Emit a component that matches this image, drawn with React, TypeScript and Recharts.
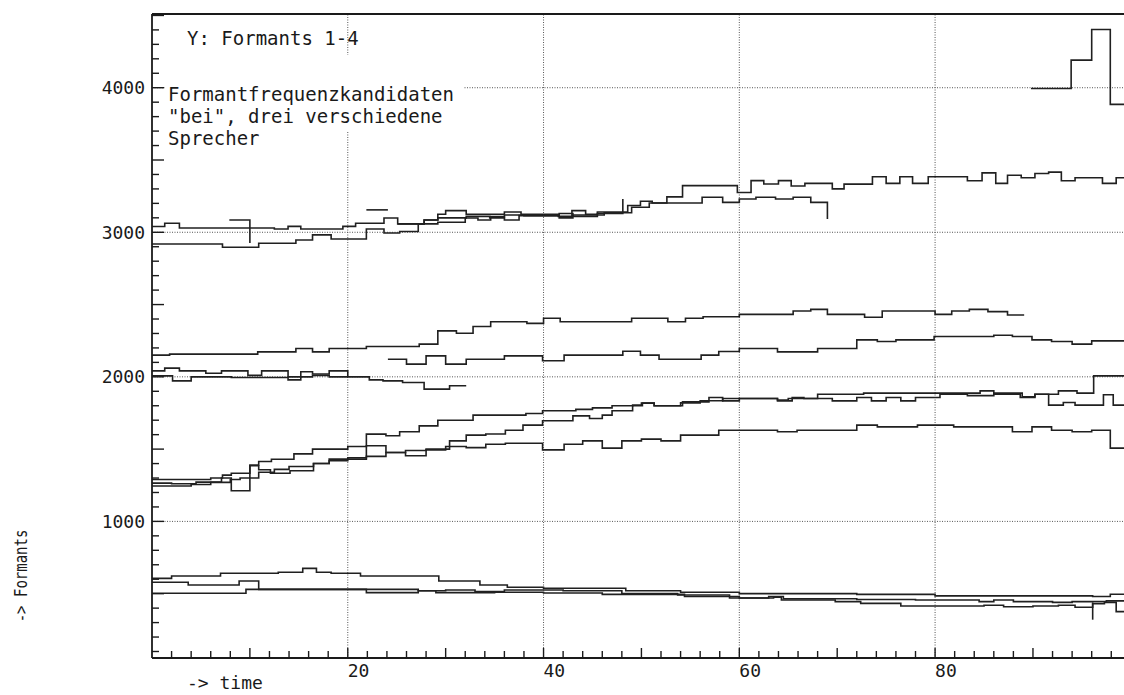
import React from 'react';
import { LineChart, Line, XAxis, YAxis, ReferenceLine } from 'recharts';

type P = [number, number];

// formant 4 (three speakers + fragments)
const f4a: P[] = [[0, 3040], [1.3, 3062], [2.8, 3030], [12.5, 3023], [13.9, 3041], [15.2, 3023], [19.5, 3041], [20.8, 3062], [23.7, 3099], [25.1, 3058], [27.8, 3085], [29.2, 3125], [30, 3150], [32.1, 3125], [36, 3140], [37.7, 3125], [41.5, 3110], [42.9, 3150], [44.3, 3125], [45.5, 3140], [48.6, 3185], [49.9, 3215], [51.1, 3203], [52.6, 3245], [54.2, 3323], [59.8, 3275], [61.2, 3357], [62.5, 3334], [64, 3357], [65.3, 3320], [66.7, 3338], [69.5, 3300], [70.7, 3333], [73.6, 3384], [75, 3338], [76.4, 3384], [77.7, 3338], [79.3, 3384], [83.3, 3356], [84.8, 3411], [86.2, 3338], [87.4, 3395], [88.8, 3377], [90.2, 3407], [91.6, 3416], [92.9, 3356], [94.3, 3377], [97.1, 3338], [98.5, 3377], [99.3, 3377]];
const f4b: P[] = [[0, 2919], [7.2, 2896], [10.9, 2924], [14.7, 2947], [16.4, 2982], [18.3, 2954], [21.9, 3023], [23.7, 2995], [25.3, 3005], [27.2, 3058], [29.2, 3069], [32, 3099], [33.3, 3085], [34.6, 3108], [36, 3085], [37.5, 3115], [41.6, 3100], [43, 3120], [46.2, 3135], [49, 3173], [50.8, 3203], [56.2, 3242], [58.3, 3207], [60, 3230], [61.7, 3242], [63.7, 3230], [65.5, 3242], [67.3, 3207], [69, 3092]];
const f4c: P[] = [[25.1, 3058], [27.8, 3085], [29.2, 3100], [32.1, 3110], [34.5, 3100], [36, 3120], [38, 3115], [41.6, 3130], [43, 3110], [45.5, 3130], [48.1, 3230]];
const f4frag1: P[] = [[7.9, 3085], [10, 2925]];
const f4frag2: P[] = [[21.9, 3155], [24.1, 3155]];
const f4top: P[] = [[89.8, 3995], [93.9, 4191], [96, 4403], [97.9, 3885], [99.3, 3885]];

// formant 3
const f3a: P[] = [[0, 2150], [1.8, 2157], [10.8, 2173], [14.7, 2196], [16.4, 2173], [18.1, 2196], [21.9, 2210], [27.3, 2226], [29.2, 2318], [31.1, 2302], [32.8, 2348], [34.6, 2381], [38.3, 2370], [40, 2405], [41.7, 2381], [49, 2405], [52.7, 2381], [54.5, 2405], [56.3, 2416], [60, 2432], [65.5, 2455], [67.3, 2467], [69, 2432], [72.8, 2412], [74.6, 2455], [80, 2432], [81.7, 2455], [83.5, 2467], [85.4, 2451], [87.4, 2428], [89.1, 2428]];
const f3b: P[] = [[24.1, 2122], [26, 2088], [28, 2145], [30, 2088], [32.1, 2122], [36, 2145], [39.9, 2111], [42.1, 2150], [48.1, 2177], [49.9, 2150], [51.8, 2122], [56.1, 2150], [57.9, 2175], [60, 2196], [63.9, 2173], [68, 2196], [72, 2256], [74.1, 2244], [76, 2256], [79.9, 2279], [86, 2288], [87.9, 2279], [89.9, 2256], [91.9, 2244], [94, 2226], [96, 2249], [99.3, 2249]];
const f3c: P[] = [[0, 2041], [1.3, 2060], [2.8, 2041], [5.5, 2025], [7.1, 2041], [9.8, 2010], [11.2, 2041], [13.9, 2000], [15.2, 2035], [16.4, 2020], [18.1, 2041], [20, 2000], [22.2, 1979], [23.6, 1972], [25.6, 1961], [27.8, 1915], [30.4, 1938], [32.1, 1938]];
const f3d: P[] = [[0, 2007], [2.1, 1972], [4, 2000], [8.1, 1995], [13.9, 1979], [15.2, 2000], [16.4, 2010], [18.1, 2000], [20, 2000]];

// formant 2
const f2a: P[] = [[0, 1290], [3, 1290], [6, 1300], [7.2, 1320], [8.1, 1333], [10, 1390], [10.9, 1414], [12.2, 1430], [14.5, 1467], [16.4, 1500], [20, 1518], [21.9, 1604], [23.9, 1592], [25.3, 1620], [27.3, 1661], [29.2, 1700], [32.8, 1735], [38.2, 1746], [39.9, 1765], [43.3, 1775], [45, 1785], [47, 1800], [49.1, 1805], [50, 1818], [51.3, 1800], [54.2, 1827], [56.9, 1857], [58.3, 1834], [60, 1850], [63.9, 1834], [65.4, 1857], [66.6, 1850], [68, 1880], [72.7, 1887], [84.6, 1903], [86, 1887], [88.9, 1862], [90.2, 1880], [92.6, 1903], [94.5, 1887], [96.2, 2007], [99.3, 2007]];
const f2b: P[] = [[0, 1265], [2, 1260], [4.5, 1272], [7.1, 1300], [8.1, 1212], [10, 1385], [10.9, 1357], [12.1, 1333], [14.1, 1350], [16.5, 1400], [18.1, 1431], [20, 1440], [21.9, 1523], [23.9, 1477], [25.9, 1490], [28, 1500], [30.4, 1557], [32.1, 1597], [34.1, 1605], [36.1, 1631], [37.9, 1666], [39.9, 1696], [43, 1730], [44.7, 1712], [46, 1735], [47, 1765], [49.1, 1800], [50.1, 1818], [51.3, 1800], [54, 1820], [56, 1835], [58.3, 1850], [63.9, 1840], [65, 1850], [69.5, 1834], [72, 1857], [73.5, 1834], [75, 1857], [76.5, 1834], [78, 1857], [80.5, 1880], [83.3, 1870], [86, 1880], [88.7, 1857], [90.2, 1880], [91.6, 1804], [93.1, 1822], [94.3, 1804], [97.2, 1876], [98.2, 1804], [99.3, 1804]];
const f2c: P[] = [[0, 1245], [4, 1255], [6, 1270], [8, 1290], [9, 1300], [10.9, 1340], [12.5, 1360], [14, 1380], [16.5, 1400], [18.1, 1420], [20, 1431], [21.9, 1450], [23.9, 1477], [25.9, 1454], [28, 1495], [30, 1518], [32.1, 1510], [34.1, 1534], [36.1, 1541], [39.9, 1495], [42.1, 1534], [44, 1557], [46, 1507], [48, 1557], [50, 1569], [52, 1557], [54, 1597], [57.9, 1631], [63.9, 1620], [65.9, 1631], [72, 1666], [74.1, 1654], [78.2, 1666], [81.9, 1654], [87.9, 1620], [89.9, 1654], [91.9, 1631], [94, 1620], [96, 1631], [97.9, 1507], [99.3, 1507]];

// formant 1
const f1a: P[] = [[0, 606], [2, 622], [7, 641], [12.9, 648], [15.4, 675], [16.8, 648], [18.3, 641], [21.3, 622], [26.5, 622], [29.3, 588], [33.5, 560], [36.3, 544], [40, 537], [48.4, 520], [54, 510], [60, 500], [72, 495], [80, 485], [96.1, 480], [97.9, 496], [99.3, 496]];
const f1b: P[] = [[0, 579], [3.7, 560], [8.9, 588], [10.9, 530], [21.9, 530], [27.2, 520], [30, 525], [33, 515], [36, 525], [40, 525], [42, 520], [48, 500], [53.7, 491], [59, 470], [63.5, 475], [64.3, 456], [69.8, 445], [72.4, 433], [76.5, 415], [85, 420], [87, 410], [90, 415], [92.6, 420], [94.3, 406], [96.1, 430], [97.3, 440], [98.5, 376], [99.3, 376]];
const f1c: P[] = [[0, 503], [9.6, 530], [21.9, 507], [27.2, 520], [29, 507], [35, 510], [40, 505], [46, 495], [54.4, 480], [60, 470], [63, 480], [64.5, 465], [72, 460], [78, 456], [84.5, 445], [86, 456], [88, 445], [92, 440], [94, 445], [96, 445], [97.5, 450], [99.3, 450]];
const f1spike: P[] = [[96.1, 440], [96.1, 320]];

const SERIES: P[][] = [f4a, f4b, f4c, f4frag1, f4frag2, f4top, f3a, f3b, f3c, f3d, f2a, f2b, f2c, f1a, f1b, f1c, f1spike];

const X_TICKS = [2, 4, 6, 8, 10, 12, 14, 16, 18, 20, 22, 24, 26, 28, 30, 32, 34, 36, 38, 40, 42, 44, 46, 48, 50, 52, 54, 56, 58, 60, 62, 64, 66, 68, 70, 72, 74, 76, 78, 80, 82, 84, 86, 88, 90, 92, 94, 96, 98];
const X_LABELS = [20, 40, 60, 80];
const Y_TICKS = [100, 200, 300, 400, 500, 600, 700, 800, 900, 1000, 1100, 1200, 1300, 1400, 1500, 1600, 1700, 1800, 1900, 2000, 2100, 2200, 2300, 2400, 2500, 2600, 2700, 2800, 2900, 3000, 3100, 3200, 3300, 3400, 3500, 3600, 3700, 3800, 3900, 4000, 4100, 4200, 4300, 4400, 4500];
const Y_LABELS = [1000, 2000, 3000, 4000];

const W = 1124;
const H = 695;
const LEFT = 152;
const BOTTOM = 658;
const FONT = "'DejaVu Sans Mono', monospace";
const INK = '#1a1a1a';

const YTick = (props: any) => {
  const { y, payload } = props;
  const v = payload.value;
  const len = v % 500 === 0 ? 12 : 7;
  return (
    <g>
      <line x1={LEFT} x2={LEFT + len} y1={y} y2={y} stroke={INK} strokeWidth={1.4} />
      {Y_LABELS.includes(v) && (
        <text x={145} y={y + 6.5} textAnchor="end" fontFamily={FONT} fontSize={18} fill={INK}>
          {v}
        </text>
      )}
    </g>
  );
};

const XTick = (props: any) => {
  const { x, payload } = props;
  const v = payload.value;
  const len = v % 10 === 0 ? 10 : 7;
  return (
    <g>
      <line x1={x} x2={x} y1={BOTTOM} y2={BOTTOM - len} stroke={INK} strokeWidth={1.4} />
      {X_LABELS.includes(v) && (
        <text x={x} y={677} textAnchor="start" fontFamily={FONT} fontSize={18} fill={INK}>
          {v}
        </text>
      )}
    </g>
  );
};

const Txt = ({ x, y, children, size = 19 }: any) => (
  <text x={x} y={y} fontFamily={FONT} fontSize={size} fill={INK}>
    {children}
  </text>
);

export default function App() {
  const grid = { stroke: '#555', strokeDasharray: '1 1.5', strokeWidth: 1 };
  return (
    <div style={{ position: 'absolute', left: 0, top: 0, width: W, height: H, background: '#fff' }}>
      <LineChart width={W} height={H} margin={{ top: 14, right: 0, bottom: 0, left: 0 }}>
        <XAxis
          dataKey="t"
          type="number"
          domain={[0, 99.3]}
          allowDataOverflow
          ticks={X_TICKS}
          interval={0}
          height={37}
          tickLine={false}
          axisLine={{ stroke: INK, strokeWidth: 1.8 }}
          tick={<XTick />}
        />
        <YAxis
          type="number"
          domain={[55, 4510]}
          allowDataOverflow
          ticks={Y_TICKS}
          interval={0}
          width={152}
          tickLine={false}
          axisLine={{ stroke: INK, strokeWidth: 1.8 }}
          tick={<YTick />}
        />
        {X_LABELS.map((v) => (
          <ReferenceLine key={'gx' + v} x={v} {...grid} />
        ))}
        {Y_LABELS.map((v) => (
          <ReferenceLine key={'gy' + v} y={v} {...grid} />
        ))}
        <ReferenceLine y={4510} stroke={INK} strokeWidth={2} />
        {SERIES.map((pts, i) => (
          <Line
            key={i}
            data={pts.map(([t, v]) => ({ t, v }))}
            dataKey="v"
            type="stepAfter"
            stroke="#202020"
            strokeWidth={1.6}
            dot={false}
            activeDot={false}
            isAnimationActive={false}
          />
        ))}
      </LineChart>
      <svg width={W} height={H} style={{ position: 'absolute', left: 0, top: 0, pointerEvents: 'none' }}>
        <rect x={165} y={55} width={298} height={76} fill="#fff" />
        <Txt x={187} y={45}>Y: Formants 1-4</Txt>
        <Txt x={168} y={101}>Formantfrequenzkandidaten</Txt>
        <Txt x={168} y={123}>"bei", drei verschiedene</Txt>
        <Txt x={168} y={145}>Sprecher</Txt>
        <Txt x={187} y={689} size={18}>{'-> time'}</Txt>
        <g transform="translate(27,576) rotate(-90) scale(1,1.25)">
          <text x={0} y={0} textAnchor="middle" fontFamily={FONT} fontSize={14} fill={INK}>
            {'-> Formants'}
          </text>
        </g>
      </svg>
    </div>
  );
}
